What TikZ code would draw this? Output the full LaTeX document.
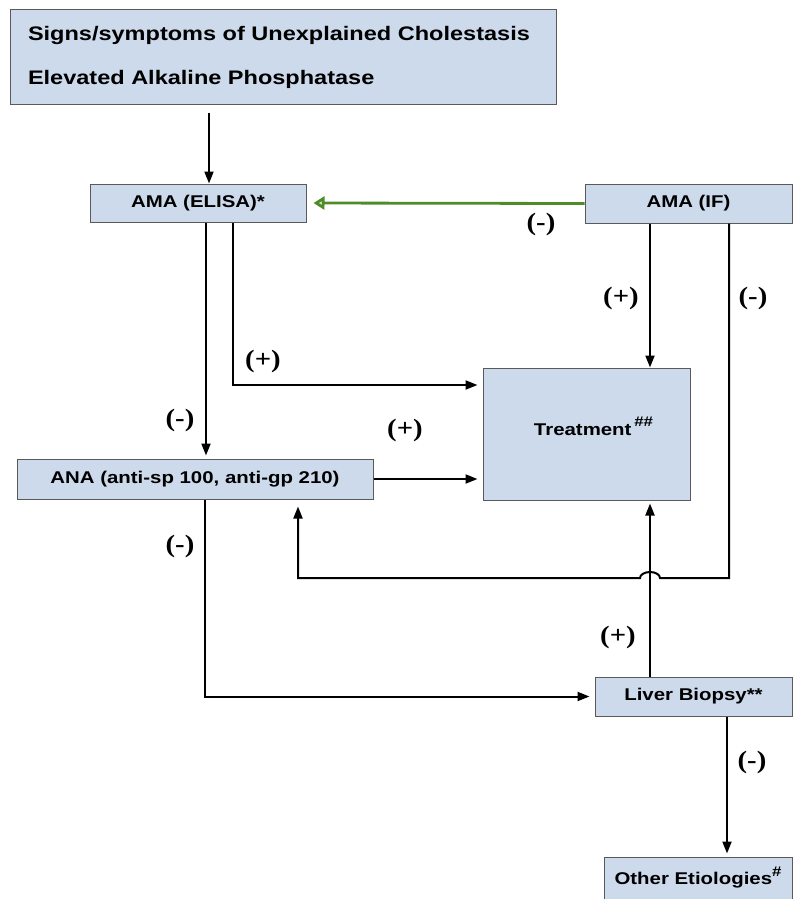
\documentclass[tikz,border=0pt]{standalone}
\usepackage{fontspec}
\setmainfont{Liberation Serif}
\newfontfamily\boxfont[FakeStretch=1.2]{Liberation Sans}
\newfontfamily\lblfont[FakeStretch=1.15]{Liberation Serif}
\usetikzlibrary{arrows.meta}
\definecolor{boxfill}{RGB}{205,218,235}
\definecolor{boxline}{RGB}{90,90,90}
\definecolor{grn}{RGB}{78,140,40}
\tikzset{
  box/.style={draw=boxline, line width=1pt, fill=boxfill, inner sep=0pt,
    font=\boxfont\bfseries\fontsize{17}{20}\selectfont},
  arr/.style={line width=2pt, -{Triangle[length=12pt,width=9pt]}},
  lbl/.style={inner sep=0pt, font=\lblfont\bfseries\fontsize{25}{28}\selectfont}
}
\begin{document}
\begin{tikzpicture}[x=1pt,y=-1pt]
\useasboundingbox (0,0) rectangle (792,899);
% boxes
\node[box, minimum width=546pt, minimum height=94pt, text width=510pt, align=left,
  font=\boxfont\bfseries\fontsize{19.6}{44}\selectfont] (top) at (283,57)
  {Signs/symptoms of Unexplained Cholestasis\\Elevated Alkaline Phosphatase};
\node[box, minimum width=216pt, minimum height=38pt] (elisa) at (198,203) {AMA (ELISA)*};
\node[box, minimum width=207pt, minimum height=39pt] (amaif) at (688.5,203.5) {AMA (IF)};
\node[box, minimum width=207pt, minimum height=132pt, text depth=16pt] (treat) at (586.5,434) {\hspace*{14pt}Treatment\,\raisebox{9pt}{\fontsize{14}{14}\selectfont\#\#}};
\node[box, minimum width=356pt, minimum height=40pt] (ana) at (195,479) {ANA (anti-sp 100, anti-gp 210)};
\node[box, minimum width=197pt, minimum height=39pt] (biopsy) at (693.5,696.5) {Liver Biopsy**};
\node[box, minimum width=188pt, minimum height=42pt] (other) at (698,878) {Other Etiologies\raisebox{8pt}{\fontsize{14}{14}\selectfont\#}};
% helper x-positions
\coordinate (cA) at (209,0);
\coordinate (cB) at (206,0);
\coordinate (cC) at (233,0);
\coordinate (cD) at (650,0);
\coordinate (cE) at (729,0);
\coordinate (cF) at (298,0);
\coordinate (cG) at (205,0);
\coordinate (cH) at (727,0);
\coordinate (jy) at (0,578);
\coordinate (jR) at (660,578);
% connectors
\draw[arr] ([yshift=-8pt]top.south -| cA) -- (elisa.north -| cA);
\draw[line width=2.8pt, grn, -{Triangle[length=11pt,width=13pt,fill=grn!25!white]}, shorten >=7pt] (amaif.west) -- (elisa.east);
\draw[arr, shorten >=5pt] (elisa.south -| cC) |- ([yshift=49pt]treat.west);
\draw[arr, shorten >=3pt] (elisa.south -| cB) -- (ana.north -| cB);
\draw[arr, shorten >=5pt] (ana.east) -- (treat.west |- ana.east);
\draw[arr] (amaif.south -| cD) -- (treat.north -| cD);
\draw[arr, shorten >=7pt] (amaif.south -| cE) -- (cE |- jy) -- (jR)
  arc[start angle=0, end angle=180, x radius=10pt, y radius=6pt] -- (cF |- jy) -- (ana.south -| cF);
\draw[arr, shorten >=5pt] (ana.south -| cG) |- (biopsy.west);
\draw[arr, shorten >=3pt] (biopsy.north -| cD) -- (treat.south -| cD);
\draw[arr, shorten >=3pt] (biopsy.south -| cH) -- (other.north -| cH);
% labels
\node[lbl] (l1) at (541,224) {(-)};
\node[lbl] (l2) at (263,361) {(+)};
\node[lbl] (l3) at (180,420) {(-)};
\node[lbl] (l4) at (621,298) {(+)};
\node[lbl] (l5) at (753,298) {(-)};
\node[lbl] (l6) at (405,430) {(+)};
\node[lbl] (l7) at (180,546) {(-)};
\node[lbl] (l8) at (618,637) {(+)};
\node[lbl] (l9) at (752,762) {(-)};
\end{tikzpicture}
\end{document}
